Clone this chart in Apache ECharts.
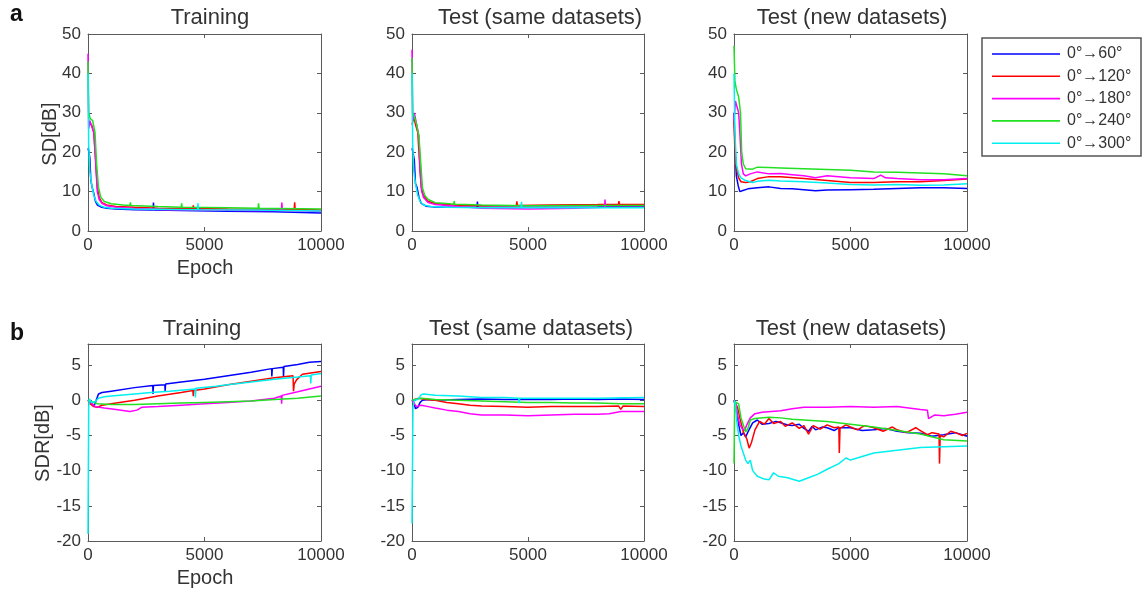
<!DOCTYPE html>
<html>
<head>
<meta charset="utf-8">
<script src="https://cdn.jsdelivr.net/npm/echarts@6/dist/echarts.min.js"></script>
<style>
html,body{margin:0;padding:0;background:#fff;}
#chart{width:1143px;height:594px;}
</style>
</head>
<body>
<div id="chart"></div>
<script>
// ---------------- DATA ----------------
const seriesNames = ['0°→60°', '0°→120°', '0°→180°', '0°→240°', '0°→300°'];
const seriesColors = ['#0000ff', '#ff0000', '#ff00ff', '#22e022', '#00f0f0'];
const panelTitles = ['Training', 'Test (same datasets)', 'Test (new datasets)',
                     'Training', 'Test (same datasets)', 'Test (new datasets)'];
const rowYLabels = ['SD[dB]', 'SDR[dB]'];
const xLabel = 'Epoch';
const panelLetters = ['a', 'b'];
const xTicks = [0, 5000, 10000];
const sdTicks = [0, 10, 20, 30, 40, 50];
const sdrTicks = [-20, -15, -10, -5, 0, 5];

// (a) SD – Training
const sdTrain60 = [[0,21],[40,20],[80,18.5],[120,13],[180,11],[250,9.5],[320,7.5],[400,6.6],[550,6.1],[800,5.8],[1200,5.6],[2000,5.4],[2790,5.3],[2810,7.2],[2830,5.3],[4000,5.2],[6000,5.0],[8000,4.9],[10000,4.6]];
const sdTrain120 = [[0,27],[60,27.5],[150,27],[250,25],[330,18],[400,11],[480,8.5],[600,7.2],[800,6.6],[1200,6.2],[2000,6.0],[3000,5.8],[4500,5.7],[4520,6.5],[4540,5.7],[6000,5.6],[8000,5.5],[8850,5.5],[8870,7.3],[8890,5.5],[10000,5.3]];
const sdTrain180 = [[0,45],[30,26],[80,28],[150,28],[250,25],[330,17],[400,10],[480,8],[600,7],[800,6.4],[1200,6.0],[2000,5.7],[3500,5.4],[5000,5.3],[7000,5.2],[8300,5.2],[8320,7.2],[8340,5.2],[10000,5.0]];
const sdTrain240 = [[0,43],[30,30],[100,28.5],[200,28],[300,25],[370,17],[450,11],[550,8.6],[700,7.5],[1000,6.9],[1500,6.6],[1800,6.5],[1820,7.3],[1840,6.5],[3000,6.2],[4000,6.0],[4020,7.0],[4040,6.0],[6000,5.9],[7300,5.8],[7320,7.0],[7340,5.8],[10000,5.6]];
const sdTrain300 = [[0,40],[30,22],[80,15],[150,12],[250,9],[350,7.5],[500,6.5],[700,6.0],[1000,5.8],[2000,5.6],[4700,5.4],[4720,7.0],[4740,5.4],[7000,5.3],[10000,5.1]];

// (a) SD – Test (same datasets)
const sdSame60 = [[0,21],[40,20],[100,18],[150,12],[220,11],[300,8.5],[400,7],[600,6.3],[1000,6.1],[2000,6.0],[2800,6.0],[2820,7.5],[2840,6.0],[5000,6.0],[8000,6.1],[10000,6.3]];
const sdSame120 = [[0,27],[80,29],[150,27],[250,25],[330,17],[400,11],[500,9],[700,7.5],[1000,7],[2000,6.5],[3000,6.4],[4500,6.5],[4520,7.5],[4540,6.5],[6000,6.6],[8000,6.7],[8900,6.8],[8920,7.6],[8940,6.8],[10000,6.7]];
const sdSame180 = [[0,46],[30,28],[100,30],[200,27],[300,24],[350,15],[420,10],[500,8.5],[700,7.2],[1000,6.7],[2000,6.2],[3000,5.8],[5000,5.6],[7000,5.8],[8300,6.0],[8320,8.0],[8340,6.0],[10000,6.0]];
const sdSame240 = [[0,44],[30,30],[100,29],[200,27],[300,24],[380,17],[450,11],[550,9],[700,8],[1000,7.2],[1500,7],[1800,6.8],[1820,7.6],[1840,6.8],[3000,6.6],[5000,6.4],[7000,6.5],[10000,6.5]];
const sdSame300 = [[0,40],[30,22],[80,15],[150,12],[250,9],[350,7.5],[500,6.6],[800,6.2],[1500,6.0],[3000,5.9],[4700,5.9],[4720,7.4],[4740,5.9],[7000,5.9],[10000,5.9]];

// (a) SD – Test (new datasets)
const sdNew60 = [[0,30],[40,22],[100,14],[180,11.5],[250,10],[350,10.2],[600,10.7],[1000,11],[1500,11.2],[2000,10.8],[2500,10.7],[3000,10.5],[3500,10.2],[4000,10.4],[5000,10.5],[6000,10.6],[7000,10.8],[8000,11],[9000,11],[10000,10.8]];
const sdNew120 = [[0,28],[40,20],[100,16],[200,13.5],[300,12.5],[500,12.3],[700,12.5],[1000,13.3],[1500,13.8],[2000,13.8],[3000,13.3],[4000,12.8],[5000,12.3],[6000,12.3],[7000,12.5],[8000,12.5],[9000,12.8],[10000,13.2]];
const sdNew180 = [[0,28],[60,33],[120,33],[200,30],[260,24],[320,17],[400,14.5],[500,14],[700,14.5],[1000,15],[1500,14.5],[2000,14.6],[2500,14.3],[3000,14],[3500,13.5],[4000,14],[5000,13.5],[6000,13.3],[6300,14.2],[6500,13.5],[7000,13.3],[8000,13],[9000,13],[10000,13.3]];
const sdNew240 = [[0,47],[40,38],[100,36],[200,34],[280,30],[330,20],[400,17],[500,15.8],[800,15.7],[1000,16.2],[1500,16.1],[2000,16],[3000,15.8],[4000,15.6],[5000,15.4],[6000,15],[7000,14.9],[8000,14.7],[9000,14.5],[10000,14]];
const sdNew300 = [[0,40],[40,25],[100,17],[200,14.5],[300,13.5],[500,12.8],[800,12.3],[1000,12.6],[1500,12.9],[2000,12.7],[3000,12.5],[4000,12.2],[5000,11.8],[6000,11.7],[7000,11.8],[8000,11.6],[9000,11.7],[10000,12.0]];

// (b) SDR – Training
const sdrTrain60 = [[0,0],[100,-0.3],[250,-0.9],[350,0],[450,0.9],[600,1.1],[1000,1.3],[2000,1.8],[2780,2.1],[2790,0.9],[2810,2.1],[3300,2.2],[3310,1.2],[3330,2.3],[4000,2.6],[5000,3.0],[6000,3.5],[7000,4.0],[7880,4.5],[7890,3.4],[7910,4.5],[8380,4.7],[8390,3.3],[8410,4.8],[9000,5.1],[9500,5.4],[10000,5.5]];
const sdrTrain120 = [[0,0],[100,-0.5],[250,-0.9],[400,-1.0],[600,-0.7],[1000,-0.5],[2000,0],[3000,0.6],[4000,1.1],[4500,1.4],[4520,0.6],[4540,1.4],[5000,1.6],[6000,2.2],[7000,2.7],[8000,3.2],[8800,3.5],[8820,1.3],[8850,2.3],[8950,2.9],[9200,3.7],[10000,4.1]];
const sdrTrain180 = [[0,0],[150,-0.4],[300,-0.9],[700,-1.1],[1200,-1.3],[1800,-1.6],[2100,-1.4],[2300,-1.0],[3000,-0.9],[4000,-0.7],[5000,-0.5],[6000,-0.3],[7000,-0.1],[8000,0.3],[8300,0.6],[8310,-0.5],[8330,0.7],[9000,1.2],[9500,1.6],[10000,2.0]];
const sdrTrain240 = [[0,0],[150,-0.2],[400,-0.5],[1000,-0.6],[2000,-0.6],[3000,-0.5],[4000,-0.4],[5000,-0.3],[6000,-0.2],[7000,-0.1],[8000,0.1],[9000,0.3],[10000,0.6]];
const sdrTrain300 = [[0,-19],[30,-1],[60,0.2],[150,-0.3],[300,-0.2],[450,0.3],[700,0.5],[1000,0.6],[2000,0.9],[2700,1.1],[3500,1.3],[4600,1.6],[4610,0.4],[4630,1.7],[5500,2.0],[6000,2.2],[7000,2.6],[8000,3.0],[9000,3.3],[9550,3.5],[9560,2.4],[9580,3.6],[10000,3.8]];

// (b) SDR – Test (same datasets)
const sdrSame60 = [[0,0],[80,-0.3],[150,-1.2],[250,-1.0],[350,-0.3],[450,0],[700,0.1],[1000,0],[2000,0.1],[3000,0.2],[4000,0.1],[5000,0.1],[6000,0.1],[7000,0.2],[8000,0.1],[9000,0.2],[10000,0.1]];
const sdrSame120 = [[0,0],[300,0.3],[600,0.1],[1000,0],[1500,-0.3],[2000,-0.5],[2500,-0.7],[3000,-0.8],[4000,-0.9],[5000,-1.0],[6000,-0.9],[7000,-0.9],[8000,-0.9],[8900,-0.8],[9000,-1.3],[9100,-0.8],[10000,-0.9]];
const sdrSame180 = [[0,0],[100,-0.5],[200,-0.9],[400,-0.7],[700,-0.9],[1000,-1.1],[1500,-1.4],[2000,-1.6],[2500,-1.9],[3000,-2.1],[4000,-2.1],[5000,-2.2],[6000,-2.1],[7000,-2.0],[8000,-2.0],[8500,-1.9],[9000,-1.6],[9500,-1.6],[10000,-1.6]];
const sdrSame240 = [[0,0],[200,0.2],[400,0.3],[1000,0.1],[2000,0],[3000,-0.1],[4000,-0.2],[5000,-0.3],[6000,-0.3],[7000,-0.4],[8000,-0.4],[9000,-0.5],[10000,-0.5]];
const sdrSame300 = [[0,-17.5],[40,-1],[100,0],[250,0.1],[400,0.8],[500,0.9],[1000,0.7],[2000,0.6],[3000,0.4],[4000,0.4],[4600,0.3],[4620,-0.4],[4640,0.3],[6000,0.3],[8000,0.3],[10000,0.4]];

// (b) SDR – Test (new datasets)
const sdrNew60 = [[0,0],[100,-1.5],[200,-3.5],[300,-5],[400,-4.6],[500,-5.2],[600,-4.5],[800,-3.2],[1000,-2.8],[1200,-3.4],[1500,-3.3],[1800,-3.0],[2000,-3.2],[2300,-3.5],[2500,-3.6],[2800,-3.4],[3000,-4],[3200,-4.4],[3350,-3.7],[3500,-4.2],[3800,-3.8],[4000,-3.9],[4300,-4.3],[4500,-3.9],[5000,-3.9],[5500,-4.3],[6000,-4.2],[6500,-4.0],[7000,-4.4],[7500,-4.6],[8000,-4.7],[8500,-5.1],[9000,-4.9],[9500,-4.6],[10000,-5.1]];
const sdrNew120 = [[0,0],[150,-1],[250,-2.5],[400,-4.5],[550,-5.5],[650,-6.8],[750,-6],[900,-4.2],[1100,-3],[1300,-3.4],[1500,-2.6],[1700,-3.3],[2000,-3],[2200,-3.7],[2500,-3.2],[2800,-4.0],[3000,-3.6],[3200,-4.8],[3400,-3.6],[3700,-4.1],[4000,-3.5],[4300,-3.9],[4500,-3.8],[4520,-7.5],[4550,-4],[4800,-3.5],[5000,-3.8],[5300,-4.2],[5600,-3.6],[6000,-3.9],[6400,-4.4],[6800,-3.8],[7000,-4.2],[7400,-4.6],[7800,-3.9],[8000,-4.3],[8300,-4.9],[8500,-4.6],[8800,-4.8],[8820,-9],[8850,-5],[9000,-5.2],[9300,-4.4],[9500,-4.6],[9800,-5.0],[10000,-4.7]];
const sdrNew180 = [[0,0],[80,-0.5],[150,-2],[250,-3.5],[350,-4],[450,-4.3],[550,-3.5],[700,-2.5],[900,-1.9],[1200,-1.7],[2000,-1.5],[2500,-1.2],[3000,-1.0],[4000,-1.0],[5000,-0.9],[6000,-1.0],[7000,-0.9],[7500,-1.1],[8000,-1.3],[8300,-1.4],[8350,-2.6],[8600,-2.1],[9000,-2.2],[9500,-2.0],[10000,-1.7]];
const sdrNew240 = [[0,-9],[30,-0.2],[100,0],[200,-0.5],[300,-2.5],[400,-3.5],[500,-4.5],[600,-4.0],[700,-2.8],[900,-2.6],[1500,-2.4],[2000,-2.5],[2500,-2.7],[3000,-2.8],[4000,-3.0],[5000,-3.4],[6000,-3.8],[7000,-4.3],[8000,-4.8],[9000,-5.6],[10000,-5.8]];
const sdrNew300 = [[0,0],[60,-0.5],[120,-3],[200,-5],[300,-6.5],[400,-7.5],[500,-8.5],[600,-9.0],[700,-8.5],[800,-10],[1000,-10.8],[1300,-11.2],[1500,-11.3],[1700,-10.3],[1900,-10.8],[2300,-11],[2800,-11.5],[3200,-11],[3600,-10.5],[4000,-9.8],[4500,-9],[4800,-8.2],[5000,-8.5],[5500,-8],[6000,-7.5],[7000,-7.1],[8000,-6.7],[9000,-6.6],[10000,-6.5]];

const panelData = [
  [sdTrain60, sdTrain120, sdTrain180, sdTrain240, sdTrain300],
  [sdSame60, sdSame120, sdSame180, sdSame240, sdSame300],
  [sdNew60, sdNew120, sdNew180, sdNew240, sdNew300],
  [sdrTrain60, sdrTrain120, sdrTrain180, sdrTrain240, sdrTrain300],
  [sdrSame60, sdrSame120, sdrSame180, sdrSame240, sdrSame300],
  [sdrNew60, sdrNew120, sdrNew180, sdrNew240, sdrNew300]
];

// ---------------- LAYOUT ----------------
const FONT = "'Liberation Sans', Arial, sans-serif";
const TXT = '#333333';
const AX = '#5a5a5a';
const grids = [
  {left: 88,  top: 34,  width: 233, height: 197},
  {left: 412, top: 34,  width: 232, height: 197},
  {left: 734, top: 34,  width: 233, height: 197},
  {left: 88,  top: 344, width: 233, height: 197},
  {left: 412, top: 344, width: 232, height: 197},
  {left: 734, top: 344, width: 233, height: 197}
];
const titleCenters = [[210, 17], [540, 17], [852, 17], [202, 328], [531, 328], [851, 328]];

const xAxes = [], yAxes = [], series = [], titles = [];
grids.forEach((g, i) => {
  const top = i < 3;
  const yMin = top ? sdTicks[0] : sdrTicks[0];
  const yMax = top ? sdTicks[sdTicks.length - 1] : 8;
  const yInt = top ? sdTicks[1] - sdTicks[0] : sdrTicks[1] - sdrTicks[0];
  const mk = () => ({
    axisLine: {show: true, onZero: false, lineStyle: {color: AX, width: 1}},
    axisTick: {show: true, inside: true, length: 4, lineStyle: {color: AX}},
    splitLine: {show: false}
  });
  xAxes.push(Object.assign({
    gridIndex: i, type: 'value', position: 'bottom',
    min: xTicks[0], max: xTicks[xTicks.length - 1], interval: xTicks[1] - xTicks[0],
    axisLabel: {show: true, color: TXT, fontFamily: FONT, fontSize: 17, margin: 6,
      formatter: v => String(v)}
  }, mk()));
  xAxes.push(Object.assign({
    gridIndex: i, type: 'value', position: 'top',
    min: xTicks[0], max: xTicks[xTicks.length - 1], interval: xTicks[1] - xTicks[0],
    axisLabel: {show: false}
  }, mk()));
  yAxes.push(Object.assign({
    gridIndex: i, type: 'value', position: 'left',
    min: yMin, max: yMax, interval: yInt,
    axisLabel: {show: true, color: TXT, fontFamily: FONT, fontSize: 17, margin: 7,
      showMaxLabel: top, formatter: v => (v % yInt === 0 ? String(v) : '')}
  }, mk()));
  yAxes.push(Object.assign({
    gridIndex: i, type: 'value', position: 'right',
    min: yMin, max: yMax, interval: yInt,
    axisLabel: {show: false}
  }, mk()));
  panelData[i].forEach((d, k) => {
    series.push({
      name: seriesNames[k], type: 'line',
      xAxisIndex: 2 * i, yAxisIndex: 2 * i,
      data: d, symbol: 'none', showSymbol: false,
      lineStyle: {color: seriesColors[k], width: 1.5},
      itemStyle: {color: seriesColors[k]},
      emphasis: {disabled: true},
      silent: true, animation: false, clip: true
    });
  });
  titles.push({
    text: panelTitles[i], left: titleCenters[i][0], top: titleCenters[i][1] - 10,
    textAlign: 'center', padding: 0,
    textStyle: {fontFamily: FONT, fontSize: 22, fontWeight: 'normal', color: TXT}
  });
});

const graphics = [
  {type: 'text', left: 10, top: 3, style: {text: panelLetters[0], font: "bold 23px " + FONT, fill: '#111'}},
  {type: 'text', left: 10, top: 322, style: {text: panelLetters[1], font: "bold 23px " + FONT, fill: '#111'}},
  {type: 'text', x: 205, y: 268, style: {text: xLabel, font: "20px " + FONT, fill: TXT, align: 'center', verticalAlign: 'middle'}},
  {type: 'text', x: 205, y: 578, style: {text: xLabel, font: "20px " + FONT, fill: TXT, align: 'center', verticalAlign: 'middle'}},
  {type: 'text', x: 50, y: 134, rotation: Math.PI / 2, style: {text: rowYLabels[0], font: "20px " + FONT, fill: TXT, align: 'center', verticalAlign: 'middle'}},
  {type: 'text', x: 43, y: 443, rotation: Math.PI / 2, style: {text: rowYLabels[1], font: "20px " + FONT, fill: TXT, align: 'center', verticalAlign: 'middle'}},
  {type: 'rect', shape: {x: 982, y: 38, width: 159, height: 118}, style: {fill: '#fff', stroke: '#555', lineWidth: 1.5}, z: -1}
];

const chart = echarts.init(document.getElementById('chart'));
chart.setOption({
  animation: false,
  backgroundColor: '#fff',
  title: titles,
  grid: grids.map(g => Object.assign({containLabel: false}, g)),
  xAxis: xAxes,
  yAxis: yAxes,
  legend: {
    orient: 'vertical', left: 992, top: 46, padding: 0,
    icon: 'rect', itemWidth: 68, itemHeight: 1.6, itemGap: 6.3,
    data: seriesNames,
    textStyle: {fontFamily: FONT, fontSize: 16, color: TXT, padding: [0, 0, 0, 2]},
    selectedMode: false
  },
  graphic: graphics,
  series: series
});
</script>
</body>
</html>
